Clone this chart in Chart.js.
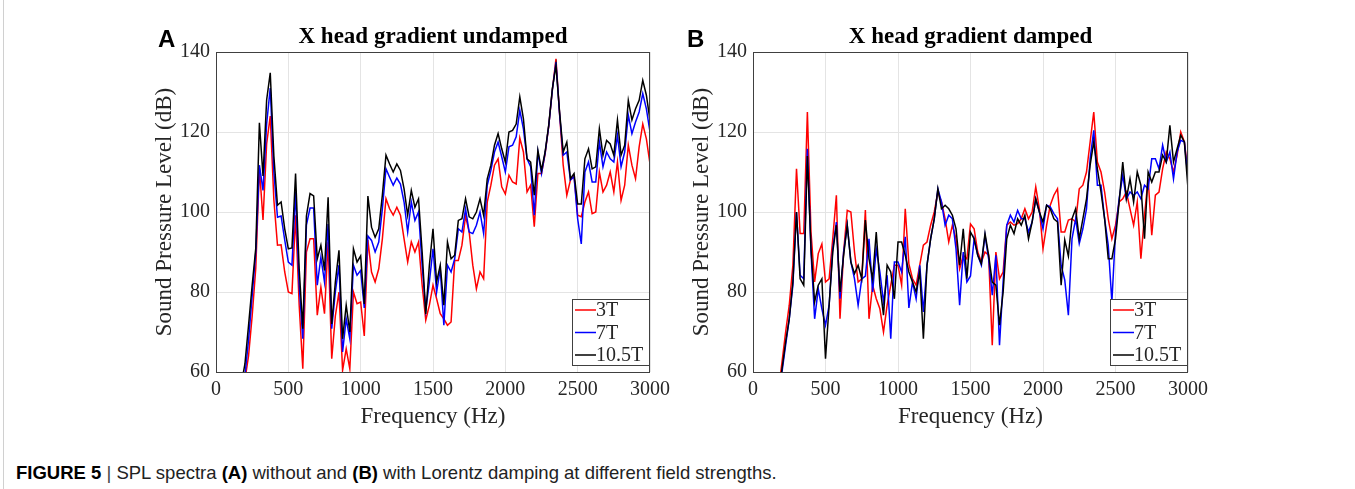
<!DOCTYPE html>
<html>
<head>
<meta charset="utf-8">
<script src="https://cdn.jsdelivr.net/npm/chart.js@4.4.0/dist/chart.umd.min.js"></script>
<style>
  html, body { margin: 0; padding: 0; background: #fff; }
  body { width: 1355px; height: 489px; position: relative; overflow: hidden; }
  .frame { position: absolute; left: 3px; top: 0; width: 0; height: 489px; border-left: 1px solid #d0d0d0; }
  .panel { position: absolute; top: 20px; }
  #panelA { left: 140px; }
  #panelB { left: 677px; }
  .caption {
    position: absolute; left: 16px; top: 462px;
    font-family: "Liberation Sans", Arial, sans-serif; font-size: 18.5px; color: #222;
    white-space: nowrap;
  }
  .caption b { color: #000; }
  .caption .bar { color: #444; }
</style>
</head>
<body>
<div class="frame"></div>
<div class="panel" id="panelA"><canvas id="chartA" width="540" height="420"></canvas></div>
<div class="panel" id="panelB"><canvas id="chartB" width="541" height="420"></canvas></div>
<div class="caption"><b>FIGURE 5</b> <span class="bar">|</span> SPL spectra <b>(A)</b> without and <b>(B)</b> with Lorentz damping at different field strengths.</div>

<script>
// frequency grid shared by all spectra (Hz)
var freqs = [
  175, 200, 225, 250, 275, 300, 325, 350, 375, 400, 425,
  450, 475, 500, 525, 550, 575, 600, 625, 650, 675,
  700, 725, 750, 775, 800, 825, 850, 875, 900, 925,
  950, 975, 1000, 1025, 1050, 1075, 1100, 1125, 1150, 1175,
  1200, 1225, 1250, 1275, 1300, 1325, 1350, 1375, 1400, 1425,
  1450, 1475, 1500, 1525, 1550, 1575, 1600, 1625, 1650, 1675,
  1700, 1725, 1750, 1775, 1800, 1825, 1850, 1875, 1900, 1925,
  1950, 1975, 2000, 2025, 2050, 2075, 2100, 2125, 2150, 2175,
  2200, 2225, 2250, 2275, 2300, 2325, 2350, 2375, 2400, 2425,
  2450, 2475, 2500, 2525, 2550, 2575, 2600, 2625, 2650, 2675,
  2700, 2725, 2750, 2775, 2800, 2825, 2850, 2875, 2900, 2925,
  2950, 2975, 3000
];

var fieldLabels = ['3T', '7T', '10.5T'];
var fieldColors = ['#ff0000', '#0000ff', '#000000'];

// (A) undamped, SPL in dB
var undamped3T = [
  50, 58, 64, 74, 86, 111, 98, 117, 124, 103, 91.7,
  91.8, 85, 80, 79.6, 99.2, 76.7, 60.8, 90, 93.3, 93.3,
  74.2, 81.2, 74.6, 92.5, 63.3, 74, 80, 60.4, 65.8, 60.8,
  80, 77.1, 77.5, 69, 93, 85, 82.5, 85.8, 93.3, 103.3,
  100.8, 99.2, 101.2, 99.2, 93.3, 87.5, 92.5, 90, 92.5, 81.7,
  73, 76.7, 81.7, 78.3, 74.6, 73.3, 71.7, 72.5, 87.9, 87.9,
  91.7, 99, 95, 86.7, 80.8, 85, 83.3, 102.5, 106.7, 111.7,
  113.3, 106.3, 104.5, 109.2, 107.5, 107, 118.5, 115, 105, 106.7,
  96.3, 109.6, 109.6, 114.5, 121.5, 130.5, 138.3, 124.5, 111.7, 104.2,
  108, 109, 99.2, 98.8, 102.5, 105, 99.6, 100, 110, 105,
  106.7, 110, 105, 112.5, 102.9, 106.7, 116.7, 111.7, 108.3, 116.3,
  122, 118.3, 112
];
var undamped7T = [
  53, 59, 68, 79, 90, 111.7, 105.4, 122, 131, 110, 98.7,
  99, 93, 87.5, 86.7, 105, 81.7, 68.3, 96.7, 101, 101,
  81.7, 88.7, 82.5, 97, 70.8, 80, 86.7, 65, 73.3, 68.3,
  86.7, 84.2, 85.4, 76, 94, 92.9, 90, 92.5, 100.8, 110.8,
  108.7, 106.7, 108.5, 107, 102.5, 95, 102.5, 97.9, 100, 86.7,
  75.5, 82.5, 90.8, 80, 85.8, 71.7, 86.7, 85, 88.3, 95.8,
  95, 100.8, 95, 94.6, 96.7, 100, 94.6, 106.7, 110.4, 115,
  117.5, 113.8, 110, 116.3, 116.7, 118.8, 125.4, 120.8, 113.3, 111.3,
  99.2, 115, 109.6, 114.8, 121.5, 130.5, 137.5, 124.5, 114.2, 115,
  108, 108.8, 98.3, 92, 110, 112.5, 107.5, 107.5, 117.5, 111.3,
  115, 113.3, 112.5, 119.2, 111.3, 115, 124.2, 119.6, 122.5, 125,
  129.6, 125.8, 120
];
var undamped105T = [
  57, 62, 71.7, 81.7, 91, 122.3, 109, 128, 134.8, 114, 101.7,
  102.5, 95.8, 90.8, 91, 109.6, 85.8, 70.8, 99, 104.6, 104,
  88.3, 91.7, 85.4, 103.7, 72, 82.5, 90.4, 68.3, 76.7, 70,
  90.8, 87.5, 89, 77, 104, 96.2, 93.7, 95.8, 104.2, 114.2,
  112, 110, 112, 110.4, 105.8, 99.2, 105.4, 101.2, 103.3, 90,
  74.5, 86.7, 95.8, 82.5, 86.7, 76.7, 92.5, 88.3, 89.2, 97.9,
  98.3, 103.3, 98.8, 98.3, 100, 103.3, 99.2, 108.3, 111.7, 116.7,
  119.6, 115.8, 112.5, 120, 120.4, 122, 128.8, 123.3, 113.3, 112.5,
  104.2, 115.4, 110.4, 115, 121.7, 130.8, 136.7, 125, 115, 117.5,
  108.3, 109.6, 102, 102, 113.3, 115.8, 110.8, 111.3, 120.8, 114.2,
  117.9, 117, 114.2, 123, 114.2, 116.7, 127.9, 123, 125.8, 127.9,
  132.9, 129.2, 122.9
];

// (B) damped, SPL in dB
var damped3T = [
  55, 62.5, 70, 76.7, 86.7, 110.8, 94.6, 94.6, 125, 95, 82.5,
  89.6, 92, 82.5, 83.3, 93.3, 104.2, 73.3, 90, 100.4, 100,
  90, 82.5, 83.3, 100.5, 73.3, 81.7, 78.3, 75.8, 70, 76.7,
  81.7, 86.7, 86.7, 81.7, 100.8, 87, 83.3, 81.7, 86.7, 91.7,
  92.5, 96.7, 100, 105, 102.5, 98.3, 92.5, 96.7, 93.3, 85.8,
  89.2, 88.3, 97, 95.8, 90, 87.5, 90, 89.2, 66.7, 90,
  83.3, 85, 96.7, 97.5, 96.7, 97.1, 98.3, 100.8, 98.3, 100,
  106.3, 100.8, 90.8, 96.7, 101.7, 104.2, 105.8, 95, 95, 98,
  98.3, 97.5, 105.8, 106.7, 110, 117.5, 125, 112.5, 110, 105,
  98.3, 93.3, 96.7, 102.5, 103.3, 105, 100.8, 96.7, 102.5, 88.3,
  99.2, 108.3, 94.2, 104.2, 105, 110.8, 115, 113.3, 110, 114.2,
  120, 117.5, 110
];
var damped7T = [
  53, 60, 66.7, 73.3, 81.7, 100, 84.2, 83.3, 115.8, 90, 73.3,
  80.8, 75.8, 71.7, 76.7, 90.8, 97.5, 78.3, 90, 96.7, 87.5,
  83.3, 76.7, 83.3, 84, 93.3, 80, 90.8, 85, 77.5, 84.2,
  68.3, 87.5, 87.5, 85, 93.8, 76, 82.5, 78.3, 86.7, 75,
  86.7, 93.3, 98.3, 105.8, 102.5, 96.7, 99.2, 98.3, 90.8, 76.7,
  90, 82.5, 84, 93.3, 89.2, 86.7, 94.2, 88.3, 79.2, 89.2,
  66.7, 82.5, 96.7, 99.2, 97.5, 100.4, 98.3, 98.3, 95, 97.5,
  103.3, 100, 95.8, 101.7, 101.3, 99.6, 98.3, 86.7, 83, 74.2,
  93.3, 98.3, 92.1, 95.8, 100.8, 113.3, 120.4, 106.7, 106.7, 98.3,
  91.7, 77.5, 95, 103.3, 109.2, 103.3, 105, 104.2, 105, 103.3,
  106.7, 105.8, 113.3, 113.3, 110.8, 116.7, 112.5, 115, 108.3, 115,
  117.9, 117.5, 108.3
];
var damped105T = [
  54, 60.8, 67.5, 73.3, 82.5, 100, 83.3, 81.7, 114, 90.8, 77.5,
  81.7, 83.3, 63.3, 76.7, 90, 96.7, 80, 89.2, 96.7, 87.5,
  84.6, 86.7, 83.3, 98, 88.3, 83.3, 95, 81.7, 74.2, 86.7,
  85, 78.3, 92.5, 92.5, 89.2, 85, 82.5, 80, 85, 68.3,
  86.7, 93.3, 98.3, 105.8, 100.8, 101.7, 100.8, 99.2, 95.8, 86.7,
  95.8, 83.3, 95, 93.3, 89.2, 87.1, 94.6, 89.2, 82.5, 81.7,
  71.7, 80, 93.3, 96.7, 94.6, 98.3, 96.7, 99.2, 93.3, 97.5,
  103.3, 100, 97.5, 101.7, 100.8, 98.3, 97.5, 81.7, 93, 89,
  98.3, 100.8, 93.3, 98.3, 103.3, 111.7, 117.5, 110.8, 105, 98.3,
  88.3, 88.3, 93.3, 102.5, 112.5, 103.3, 108.3, 102.5, 110, 106.7,
  93.3, 110, 107.5, 110, 110, 114.2, 112.5, 121.7, 112.5, 115.8,
  119.2, 117.5, 105.8
];

var yTicks = [60, 80, 100, 120, 140];
var xTicks = [0, 500, 1000, 1500, 2000, 2500, 3000];

var serif = '"Liberation Serif", "Times New Roman", serif';
var axisInk = '#262626';
var boxInk = '#404040';

// box round the axes, panel title, panel letter, MATLAB style legend
var panelDeco = {
  id: 'panelDeco',
  afterDraw: function(chart, args, opts) {
    var ctx = chart.ctx, a = chart.chartArea;
    ctx.save();
    ctx.strokeStyle = boxInk;
    ctx.lineWidth = 1;
    ctx.strokeRect(Math.round(a.left) + 0.5, Math.round(a.top) + 0.5,
      Math.round(a.right - a.left) - 1, Math.round(a.bottom - a.top));

    ctx.fillStyle = '#000';
    ctx.font = 'bold 23px ' + serif;
    ctx.textAlign = 'center';
    ctx.textBaseline = 'alphabetic';
    ctx.fillText(opts.title, (a.left + a.right) / 2, 23);

    ctx.font = 'bold 24px "Liberation Sans", Arial, sans-serif';
    ctx.textAlign = 'left';
    ctx.fillText(opts.letter, opts.letterX, 27);

    // legend
    var w = 77, h = 66;
    var lx = Math.round(a.right) - w - 1, ly = Math.round(a.bottom) - h - 7;
    ctx.fillStyle = '#fff';
    ctx.fillRect(lx, ly, w, h);
    ctx.strokeStyle = boxInk;
    ctx.strokeRect(lx + 0.5, ly + 0.5, w, h);
    ctx.font = '20px ' + serif;
    ctx.textBaseline = 'middle';
    chart.data.datasets.forEach(function(ds, i) {
      var ry = ly + 11 + i * 22.5;
      ctx.strokeStyle = ds.borderColor;
      ctx.lineWidth = 1.5;
      ctx.beginPath();
      ctx.moveTo(lx + 3, ry);
      ctx.lineTo(lx + 24, ry);
      ctx.stroke();
      ctx.fillStyle = axisInk;
      ctx.fillText(ds.label, lx + 24, ry + 1);
    });
    ctx.restore();
  }
};

function makeSeries(vals) {
  return freqs.map(function(f, i) { return { x: f, y: vals[i] }; });
}

function plainTick(v) { return String(v); }

function drawPanel(id, title, letter, letterX, series) {
  new Chart(document.getElementById(id), {
    type: 'line',
    data: {
      datasets: series.map(function(vals, i) {
        return {
          label: fieldLabels[i],
          data: makeSeries(vals),
          borderColor: fieldColors[i],
          backgroundColor: fieldColors[i],
          borderWidth: 1.5,
          pointRadius: 0,
          tension: 0,
          order: series.length - 1 - i
        };
      })
    },
    plugins: [panelDeco],
    options: {
      responsive: false,
      animation: false,
      layout: { padding: { top: 32, right: 30, left: 0, bottom: 0 } },
      plugins: {
        legend: { display: false },
        tooltip: { enabled: false },
        panelDeco: { title: title, letter: letter, letterX: letterX }
      },
      scales: {
        x: {
          type: 'linear',
          min: 0, max: 3000,
          afterFit: function(s) { s.height = 68; },
          afterBuildTicks: function(s) { s.ticks = xTicks.map(function(v) { return { value: v }; }); },
          ticks: { color: axisInk, padding: 6, font: { family: serif, size: 20 }, maxRotation: 0,
                   autoSkip: false, callback: plainTick },
          grid: { color: '#e4e4e4', drawTicks: false },
          border: { display: false },
          title: { display: true, text: 'Frequency (Hz)', color: axisInk,
                   font: { family: serif, size: 23 }, padding: { top: 0, bottom: 9 } }
        },
        y: {
          min: 60, max: 140,
          afterFit: function(s) { s.width = 76; },
          afterBuildTicks: function(s) { s.ticks = yTicks.map(function(v) { return { value: v }; }); },
          ticks: { color: axisInk, padding: 6, font: { family: serif, size: 20 }, callback: plainTick },
          grid: { color: '#e4e4e4', drawTicks: false },
          border: { display: false },
          title: { display: true, text: 'Sound Pressure Level (dB)', color: axisInk,
                   font: { family: serif, size: 23 }, padding: { top: 11, bottom: 0 } }
        }
      }
    }
  });
}

drawPanel('chartA', 'X head gradient undamped', 'A', 18, [undamped3T, undamped7T, undamped105T]);
drawPanel('chartB', 'X head gradient damped', 'B', 10, [damped3T, damped7T, damped105T]);
</script>
</body>
</html>
